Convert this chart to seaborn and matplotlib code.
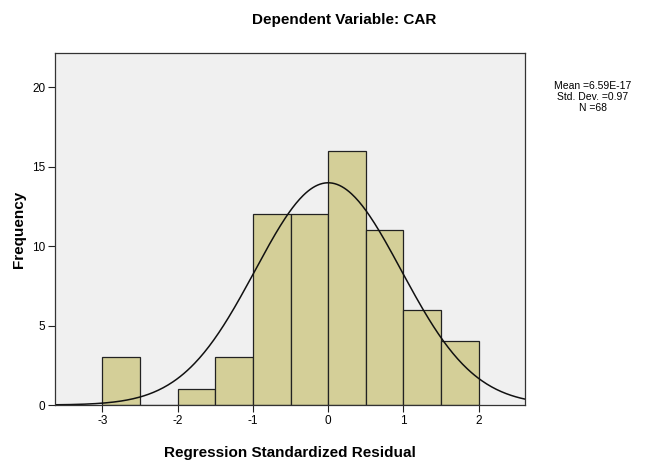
import numpy as np
import pandas as pd
import matplotlib
matplotlib.use("Agg")
import matplotlib.pyplot as plt
import seaborn as sns

bin_centers = [-2.75, -2.25, -1.75, -1.25, -0.75, -0.25, 0.25, 0.75, 1.25, 1.75]
counts = [3, 0, 1, 3, 12, 12, 16, 11, 6, 4]
bin_edges = [-3.0, -2.5, -2.0, -1.5, -1.0, -0.5, 0.0, 0.5, 1.0, 1.5, 2.0]
mean_val = 6.59e-17
sd_val = 0.97
n_val = 68
x_ticks = [-3, -2, -1, 0, 1, 2]
y_ticks = [0, 5, 10, 15, 20]

sns.set_style("white")
plt.rcParams['font.family'] = ['Liberation Sans', 'DejaVu Sans']
plt.rcParams['text.color'] = 'black'
plt.rcParams['axes.labelcolor'] = 'black'

fig = plt.figure(figsize=(6.52, 4.62), dpi=100)
ax = fig.add_axes([55/652, 57/462, 470/652, 352/462])
ax.set_facecolor("#f0f0f0")

df = pd.DataFrame({"x": bin_centers, "w": counts})
sns.histplot(data=df, x="x", weights="w", bins=bin_edges, ax=ax,
             color="#d4cf98", edgecolor="#222222", linewidth=0.9, alpha=1.0)

xs = np.linspace(-3.7, 2.7, 400)
binw = 0.5
ys = n_val * binw * np.exp(-0.5 * ((xs - mean_val) / sd_val) ** 2) / (sd_val * np.sqrt(2 * np.pi))
sns.lineplot(x=xs, y=ys, ax=ax, color="#111111", linewidth=1.1)

ax.set_xlim(-3.63, 2.615)
ax.set_ylim(0, 22.15)
ax.set_xticks(x_ticks)
ax.set_xticklabels([str(t) for t in x_ticks])
ax.set_yticks(y_ticks)
ax.tick_params(axis="both", direction="out", length=5, width=0.8, labelsize=8.5,
               colors="#222222", labelcolor="black", bottom=True, left=True, pad=2)
for s in ax.spines.values():
    s.set_color("#333333")
    s.set_linewidth(0.9)

ax.set_xlabel("Regression Standardized Residual", fontsize=11, fontweight="bold", labelpad=14, color="black")
ax.set_ylabel("Frequency", fontsize=11, fontweight="bold", labelpad=4, color="black")

fig.text(344/652, 1 - 20/462, "Dependent Variable: CAR", fontsize=11, fontweight="bold",
         ha="center", va="center", color="black")
fig.text(593/652, 1 - 97/462, "Mean =6.59E-17\nStd. Dev. =0.97\nN =68", fontsize=7.5,
         ha="center", va="center", linespacing=1.12, multialignment="center", color="black")

fig.savefig("out.png", dpi=100)
